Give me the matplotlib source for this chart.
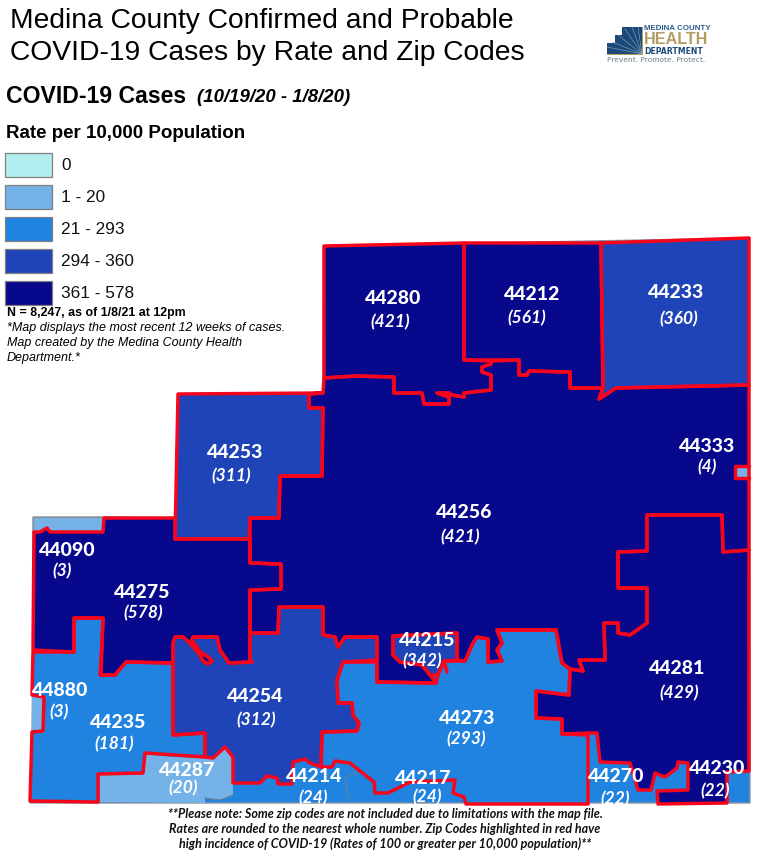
import matplotlib
matplotlib.use("Agg")
import matplotlib.pyplot as plt
from matplotlib.patches import Polygon, Rectangle

plt.rcParams["font.family"] = ["Liberation Sans", "DejaVu Sans"]

# class colours, same order as the legend
legend_labels = ["0", "1 - 20", "21 - 293", "294 - 360", "361 - 578"]
class_colors = ["#b2eeef", "#74b2e7", "#2083e0", "#1e44b8", "#08088c"]
RED = "#f6051c"
LIGHT, MID, ROYAL, NAVY = class_colors[1:]

# zip labels
zip_codes = ["44280", "44212", "44233", "44253", "44333", "44256", "44090", "44275", "44215",
             "44880", "44235", "44254", "44273", "44281", "44287", "44214", "44217", "44270", "44230"]
zip_rates = ["421", "561", "360", "311", "4", "421", "3", "578", "342",
             "3", "181", "312", "293", "429", "20", "24", "24", "22", "22"]
zip_xy = [(393, 299), (532, 294), (676, 293), (235, 452), (707, 446), (464, 512), (67, 551), (142, 592), (427, 640),
          (60, 691), (118, 723), (255, 697), (467, 718), (677, 668), (187, 771), (314, 777), (423, 778), (616, 777), (717, 769)]
rate_xy = [(390, 322), (527, 318), (679, 319), (231, 476), (707, 467), (460, 537), (62, 571), (143, 613), (422, 661),
           (59, 712), (114, 744), (256, 720), (466, 739), (679, 693), (183, 788), (313, 798), (427, 797), (615, 799), (715, 791)]

# map outlines, pixels
county = [(33, 517), (104, 517), (175, 518), (175, 539), (178, 394), (323, 393), (324, 246), (749, 238),
          (750, 803), (30, 803), (32, 732), (33, 650)]
corner_44090 = [(33, 517), (104, 517), (104, 533), (33, 533)]
zip_44233 = [(601, 243), (749, 238), (749, 385), (616, 388), (599, 399), (603, 388)]
zip_44212 = [(464, 243), (601, 243), (603, 388), (570, 388), (570, 372), (529, 371), (527, 375),
             (519, 375), (519, 360), (464, 360)]
zip_44280 = [(324, 246), (464, 243), (464, 360), (491, 361), (491, 364), (482, 367), (482, 372), (491, 375),
             (491, 390), (464, 393), (464, 397), (452, 395), (449, 393), (437, 393), (449, 397), (449, 404),
             (424, 404), (422, 393), (394, 393), (394, 377), (355, 376), (324, 378)]
zip_44253 = [(178, 394), (323, 393), (309, 394), (309, 408), (323, 408), (322, 476), (280, 476),
             (279, 518), (250, 518), (249, 539), (175, 539)]
zip_44256 = [(324, 378), (355, 376), (394, 377), (394, 393), (422, 393), (424, 404), (449, 404), (449, 397),
             (437, 393), (449, 393), (452, 395), (464, 397), (464, 393), (491, 390), (491, 375), (482, 372),
             (482, 367), (491, 364), (491, 361), (519, 360), (519, 375), (527, 375), (529, 371), (570, 372),
             (570, 388), (603, 388), (599, 399), (616, 388), (749, 385), (749, 550), (723, 552), (722, 515),
             (647, 515), (647, 551), (618, 552), (618, 588), (647, 588), (647, 623), (630, 635), (618, 633),
             (618, 623), (604, 623), (605, 660), (579, 660), (583, 671), (570, 669), (562, 663), (556, 630),
             (497, 630), (502, 643), (497, 650), (502, 661), (488, 662), (488, 639), (477, 637), (473, 643),
             (465, 661), (457, 660), (457, 633), (393, 636), (393, 655), (400, 662), (422, 665), (430, 675),
             (436, 683), (377, 682), (377, 637), (345, 637), (338, 647), (335, 637), (323, 635), (323, 607),
             (279, 607), (278, 633), (250, 633), (250, 590), (281, 589), (281, 564), (250, 563), (250, 539),
             (250, 518), (279, 518), (280, 476), (322, 476), (323, 408), (309, 408), (309, 394), (323, 393)]
zip_44275 = [(34, 532), (40, 532), (47, 528), (50, 532), (103, 532), (104, 518), (175, 518), (175, 539),
             (250, 539), (250, 563), (281, 564), (281, 589), (250, 590), (250, 660), (252, 662), (229, 663),
             (220, 650), (217, 637), (193, 637), (192, 640), (200, 652), (208, 657), (212, 661), (208, 664),
             (203, 661), (200, 655), (190, 643), (183, 637), (175, 637), (173, 643), (173, 663), (126, 662),
             (115, 675), (100, 675), (101, 660), (103, 618), (74, 618), (74, 652), (33, 650)]
zip_44235 = [(33, 652), (74, 652), (74, 618), (103, 618), (101, 675), (115, 675), (126, 662), (173, 663),
             (173, 735), (205, 733), (205, 757), (145, 753), (143, 773), (98, 774), (98, 802), (30, 801),
             (32, 732), (43, 731), (44, 697), (32, 695)]
zip_44880 = [(32, 695), (44, 697), (43, 731), (32, 732)]
zip_44287 = [(145, 754), (173, 757), (213, 758), (225, 747), (233, 757), (233, 795), (220, 800), (205, 798),
             (205, 803), (100, 802), (100, 775), (143, 774)]
zip_44254 = [(175, 637), (183, 637), (190, 643), (200, 655), (203, 661), (208, 664), (212, 661), (208, 657),
             (200, 652), (192, 640), (193, 637), (217, 637), (220, 650), (229, 663), (252, 662), (250, 660),
             (250, 633), (278, 633), (279, 607), (323, 607), (323, 635), (335, 637), (338, 647), (345, 637),
             (377, 637), (377, 660), (343, 662), (337, 680), (338, 703), (352, 703), (353, 715), (359, 723),
             (357, 731), (322, 732), (321, 767), (310, 763), (305, 759), (293, 762), (292, 784), (278, 784),
             (277, 778), (267, 776), (260, 783), (233, 783), (233, 757), (225, 747), (213, 758), (205, 757),
             (205, 733), (173, 735), (173, 643)]
zip_44215 = [(393, 636), (457, 633), (457, 660), (444, 661), (438, 675), (430, 675), (422, 665), (400, 662), (393, 655)]
tail_44215 = [(444, 661), (447, 672)]
zip_44273 = [(343, 662), (377, 662), (377, 682), (436, 683), (438, 675), (444, 661), (465, 661),
             (473, 643), (477, 637), (488, 639), (488, 662), (502, 661), (497, 650), (502, 643), (497, 630),
             (556, 630), (562, 663), (570, 669), (569, 695), (536, 691), (536, 718), (562, 719), (562, 734),
             (588, 735), (588, 804), (466, 804), (464, 797), (453, 793), (455, 780), (410, 782), (388, 793),
             (375, 793), (374, 782), (350, 763), (335, 761), (332, 767), (321, 767), (322, 732), (357, 731),
             (359, 723), (353, 715), (352, 703), (338, 703), (337, 680)]
zip_44281 = [(647, 515), (722, 515), (723, 552), (749, 550), (749, 771), (727, 772), (727, 803), (658, 804),
             (657, 791), (688, 790), (688, 763), (678, 762), (677, 768), (665, 777), (655, 773), (651, 790),
             (638, 790), (630, 763), (600, 762), (597, 733), (590, 733), (562, 734), (562, 719), (536, 718),
             (536, 691), (569, 695), (570, 669), (583, 671), (579, 660), (605, 660), (604, 623), (618, 623),
             (618, 633), (630, 635), (647, 623), (647, 588), (618, 588), (618, 552), (647, 551)]
notch_44333 = [(749, 466), (735, 466), (735, 478), (749, 478)]
line_44214 = [(357, 772), (345, 778), (349, 800)]
line_44287 = [(205, 798), (220, 800), (233, 795)]

fills = [
    (zip_44256, NAVY), (zip_44233, ROYAL), (zip_44212, NAVY), (zip_44280, NAVY), (zip_44253, ROYAL),
    (zip_44275, NAVY), (zip_44235, MID), (zip_44287, LIGHT), (zip_44880, LIGHT), (zip_44254, ROYAL),
    (zip_44273, MID), (zip_44215, ROYAL), (zip_44281, NAVY), (notch_44333, LIGHT),
]
# outlines that get the red line
red_zips = [zip_44233, zip_44212, zip_44280, zip_44253, zip_44256, zip_44275, zip_44235, zip_44254,
            zip_44273, zip_44215, zip_44281]

fig = plt.figure(figsize=(7.68, 8.57), dpi=100)
ax = fig.add_axes([0, 0, 1, 1])
ax.set_xlim(0, 768)
ax.set_ylim(857, 0)
ax.axis("off")

ax.add_patch(Polygon(county, closed=True, fc=MID, ec="#8a94a0", lw=1, zorder=1))
ax.add_patch(Polygon(corner_44090, closed=True, fc=LIGHT, ec="#8a94a0", lw=1, zorder=1))
for pts, col in fills:
    ax.add_patch(Polygon(pts, closed=True, fc=col, ec="none", zorder=2))
for pts in red_zips:
    ax.add_patch(Polygon(pts, closed=True, fc="none", ec=RED, lw=2.5, joinstyle="round", zorder=3))
for pts in [notch_44333, tail_44215]:
    ax.plot(*zip(*pts), color=RED, lw=2.5, solid_capstyle="round", zorder=3)
for pts in [line_44214, line_44287]:
    ax.plot(*zip(*pts), color="#6f7f90", lw=0.8, zorder=3)

for code, rate, p, q in zip(zip_codes, zip_rates, zip_xy, rate_xy):
    ax.text(p[0], p[1], code, color="white", family="Lato", weight="black", fontsize=14,
            ha="center", va="center", zorder=5)
    ax.text(q[0], q[1], "(%s)" % rate, color="white", family="Lato", weight="bold", style="italic",
            fontsize=12.5, ha="center", va="center", zorder=5)

# header
ax.text(10, 21, "Medina County Confirmed and Probable", fontsize=20.3, va="center")
ax.text(10, 53, "COVID-19 Cases by Rate and Zip Codes", fontsize=20.3, va="center")
ax.text(6, 96, "COVID-19 Cases", fontsize=16.6, weight="bold", va="center")
ax.text(197, 97, "(10/19/20 - 1/8/20)", fontsize=13.4, weight="bold", style="italic", va="center")
ax.text(6, 133, "Rate per 10,000 Population", fontsize=13.5, weight="bold", va="center")

# legend
for i, (lab, col) in enumerate(zip(legend_labels, class_colors)):
    y = 153 + i * 32.1
    ax.add_patch(Rectangle((5, y), 47, 23.5, fc=col, ec="#7f7f7f", lw=0.9))
    ax.text(61, y + 12, lab, fontsize=12.4, va="center", color="#111111")

ax.text(7, 313, "N = 8,247, as of 1/8/21 at 12pm", fontsize=8.9, weight="bold", va="center")
ax.text(7, 328, "*Map displays the most recent 12 weeks of cases.", fontsize=9, style="italic", va="center")
ax.text(7, 343, "Map created by the Medina County Health", fontsize=9, style="italic", va="center")
ax.text(7, 358, "Department.*", fontsize=9, style="italic", va="center")

# footnote
note = ["**Please note: Some zip codes are not included due to limitations with the map file.",
        "Rates are rounded to the nearest whole number. Zip Codes highlighted in red have",
        "high incidence of COVID-19 (Rates of 100 or greater per 10,000 population)**"]
for i, line in enumerate(note):
    ax.text(385, 814 + i * 14.7, line, family="Lato", weight="bold", style="italic", fontsize=9,
            ha="center", va="center", color="#111111")

# logo
ax.add_patch(Polygon([(607, 54), (607, 43), (615, 43), (615, 35), (622, 35), (622, 27), (642, 27), (642, 54)],
                     closed=True, fc="#1b4a7a", ec="none"))
for tx, ty in [(607, 47), (612, 42), (618, 35), (625, 29), (632, 27), (638, 27)]:
    ax.plot([tx, 642], [ty, 54], color="#8fa6bd", lw=0.4)
ax.plot([607, 642], [54, 54], color="#b39b62", lw=0.7)
ax.plot([642, 642], [27, 54], color="#b39b62", lw=0.7)
ax.text(644, 28.5, "MEDINA COUNTY", fontsize=5.7, weight="bold", color="#2d5c8e", va="center")
ax.text(644, 39.5, "HEALTH", fontsize=11.6, weight="bold", color="#b39b62", va="center")
ax.text(644, 51.5, "DEPARTMENT", fontsize=5.6, family="DejaVu Sans", weight="bold", color="#1b4a7a", va="center")
ax.text(607, 59.5, "Prevent. Promote. Protect.", fontsize=5.4, family="DejaVu Sans", color="#6f7f88", va="center")

fig.savefig("out.png", dpi=100)
